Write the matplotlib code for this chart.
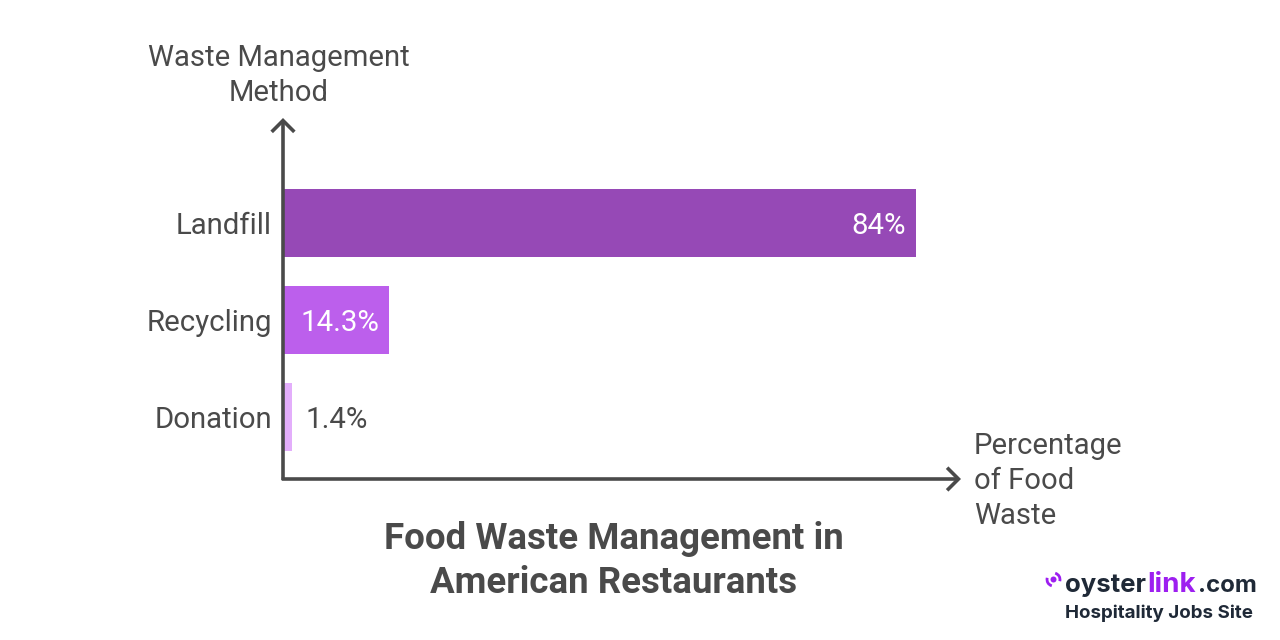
import matplotlib
matplotlib.use("Agg")
import matplotlib.pyplot as plt
from matplotlib.patches import Arc, Circle

categories = ["Donation", "Recycling", "Landfill"]
bar_lengths = [1.2, 14.05, 84]
labels = ["1.4%", "14.3%", "84%"]
colors = ["#E3AEFB", "#BC5FEC", "#9649B6"]
title_lines = "Food Waste Management in\nAmerican Restaurants"
TXT = "#4A4A4A"
W, H = 1280, 640
FS = 21.2
FS_AX = 21.05

plt.rcParams['font.family'] = ['Roboto', 'DejaVu Sans']
fig = plt.figure(figsize=(12.8, 6.4), dpi=100, facecolor="white")
ax = fig.add_axes([283/W, 1-479/H, (961-283)/W, (479-118)/H])
ax.set_xlim(0, 90)
ax.set_ylim(-0.639, 3.082)
ax.barh(range(3), bar_lengths, height=0.70, color=colors, zorder=1)
for s in ax.spines.values():
    s.set_visible(False)
ax.set_xticks([])
ax.set_yticks(range(3))
ax.set_yticklabels(categories, fontsize=FS, color=TXT)
ax.tick_params(axis="y", length=0, pad=8)

# value labels: offsets in points (px * 0.72)
def vlabel(x, y, s, dx_px, ha, color):
    ax.annotate(s, xy=(x, y), xytext=(dx_px*0.72, 0), textcoords="offset points",
                ha=ha, va="center_baseline", color=color, fontsize=FS)
vlabel(bar_lengths[2], 2, labels[2], -10, "right", "white")
vlabel(0, 1, labels[1], 17.3, "left", "white")
vlabel(bar_lengths[0], 0, labels[0], 13.3, "left", TXT)

# axis arrows
arrow = dict(arrowstyle="->,head_length=0.48,head_width=0.48", color=TXT, lw=2.6,
             shrinkA=0, shrinkB=0, mutation_scale=17, capstyle="butt", joinstyle="miter")
ax.annotate("", xy=(283/W, 1-118/H), xytext=(283/W, 1-480/H), xycoords="figure fraction",
            textcoords="figure fraction", arrowprops=arrow, zorder=5)
ax.annotate("", xy=(961/W, 1-479/H), xytext=(281.7/W, 1-479/H), xycoords="figure fraction",
            textcoords="figure fraction", arrowprops=arrow, zorder=5)

def T(x, y, s, **kw):
    fig.text(x/W, 1-y/H, s, **kw)

T(279, 75.5, "Waste Management\nMethod", ha="center", va="center", fontsize=FS_AX, color=TXT, linespacing=1.33)
T(974, 481, "Percentage\nof Food\nWaste", ha="left", va="center", fontsize=FS_AX, color=TXT, linespacing=1.33)
T(613.5, 561, title_lines, ha="center", va="center", fontsize=26.4, fontweight="bold", color=TXT, linespacing=1.29)

# logo
DARK = "#1F2937"
PUR = "#9D1FF0"
T(1065, 592, "oyster", ha="left", va="baseline", fontsize=18.5, fontweight="bold", color=DARK, family="Inter")
T(1147, 592, "link", ha="left", va="baseline", fontsize=20, fontweight="bold", color=PUR, family="Inter")
T(1198, 592, ".com", ha="left", va="baseline", fontsize=17.3, fontweight="bold", color=DARK, family="Inter")
T(1065, 618, "Hospitality Jobs Site", ha="left", va="baseline", fontsize=13.5, fontweight="bold", color=DARK, family="Inter")

ov = fig.add_axes([0, 0, 1, 1], facecolor="none")
ov.set_xlim(0, W); ov.set_ylim(H, 0); ov.axis("off")
ov.add_patch(Circle((1053.5, 579.5), 3, color=PUR, lw=0))
# y axis inverted: angles are mirrored
ov.add_patch(Arc((1053.5, 579.5), 13, 13, theta1=285, theta2=15, color=PUR, lw=2))
ov.add_patch(Arc((1053.5, 579.5), 13, 13, theta1=105, theta2=195, color=PUR, lw=2))

fig.savefig("out.png", dpi=100, facecolor="white")
